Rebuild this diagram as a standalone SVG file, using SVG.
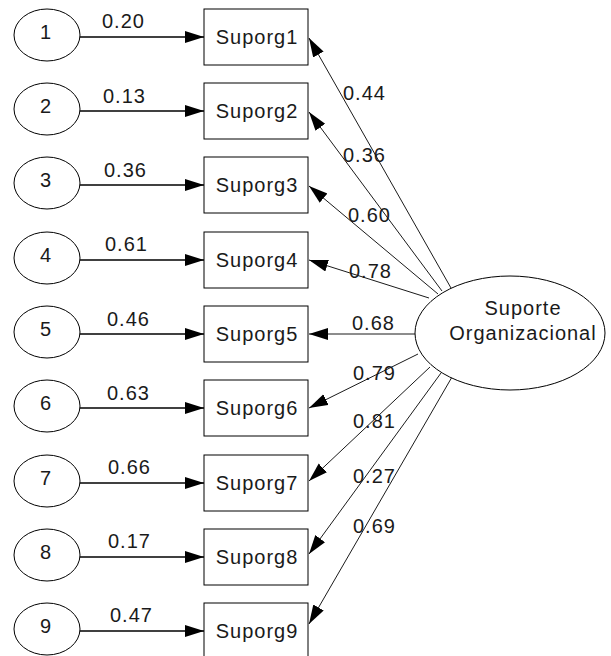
<svg xmlns="http://www.w3.org/2000/svg" width="611" height="656" viewBox="0 0 611 656">
<style>
text{font-family:"Liberation Sans",Arial,sans-serif;font-size:20px;fill:#1a1a1a;letter-spacing:1px}
.c{text-anchor:middle}
.n{fill:#fff;stroke:#000;stroke-width:1}
.h{stroke:#000;stroke-width:1.3;fill:none}
.d{stroke:#000;stroke-width:0.9;fill:none}
</style>
<defs>
<marker id="ah" markerUnits="userSpaceOnUse" markerWidth="20" markerHeight="13" refX="19" refY="6" orient="auto">
<path d="M0,0 L19,6 L0,12 z" fill="#000"/>
</marker>
</defs>
<g id="connectors">
<line class="h" x1="80" y1="37" x2="204" y2="37" marker-end="url(#ah)"/>
<line class="h" x1="80" y1="111" x2="204" y2="111" marker-end="url(#ah)"/>
<line class="h" x1="80" y1="185" x2="204" y2="185" marker-end="url(#ah)"/>
<line class="h" x1="80" y1="260" x2="204" y2="260" marker-end="url(#ah)"/>
<line class="h" x1="80" y1="334" x2="204" y2="334" marker-end="url(#ah)"/>
<line class="h" x1="80" y1="408" x2="204" y2="408" marker-end="url(#ah)"/>
<line class="h" x1="80" y1="483" x2="204" y2="483" marker-end="url(#ah)"/>
<line class="h" x1="80" y1="557" x2="204" y2="557" marker-end="url(#ah)"/>
<line class="h" x1="80" y1="631" x2="204" y2="631" marker-end="url(#ah)"/>
<line class="d" x1="451" y1="288" x2="309" y2="38" marker-end="url(#ah)"/>
<line class="d" x1="442" y1="291" x2="309" y2="112" marker-end="url(#ah)"/>
<line class="d" x1="438" y1="294" x2="309" y2="186" marker-end="url(#ah)"/>
<line class="d" x1="429" y1="298" x2="309" y2="260" marker-end="url(#ah)"/>
<line class="d" x1="415" y1="334" x2="309" y2="334" marker-end="url(#ah)"/>
<line class="d" x1="418" y1="354" x2="309" y2="408" marker-end="url(#ah)"/>
<line class="d" x1="430" y1="367" x2="309" y2="481" marker-end="url(#ah)"/>
<line class="d" x1="441" y1="373" x2="309" y2="554" marker-end="url(#ah)"/>
<line class="d" x1="452" y1="377" x2="309" y2="624" marker-end="url(#ah)"/>
<text x="102" y="28">0.20</text>
<text x="103" y="103">0.13</text>
<text x="104" y="177">0.36</text>
<text x="105" y="251">0.61</text>
<text x="107" y="326">0.46</text>
<text x="107" y="400">0.63</text>
<text x="108" y="474">0.66</text>
<text x="108" y="548">0.17</text>
<text x="110" y="622">0.47</text>
<text x="343" y="100">0.44</text>
<text x="343" y="162">0.36</text>
<text x="348" y="222">0.60</text>
<text x="349" y="278">0.78</text>
<text x="352" y="330">0.68</text>
<text x="353" y="380">0.79</text>
<text x="353" y="428">0.81</text>
<text x="353" y="483">0.27</text>
<text x="353" y="533">0.69</text>
</g>
<g id="e1"><ellipse class="n" cx="47" cy="35" rx="33" ry="26"/><text class="c" x="46" y="39">1</text></g>
<g id="e2"><ellipse class="n" cx="47" cy="109" rx="33" ry="26"/><text class="c" x="46" y="113">2</text></g>
<g id="e3"><ellipse class="n" cx="47" cy="183" rx="33" ry="26"/><text class="c" x="46" y="187">3</text></g>
<g id="e4"><ellipse class="n" cx="47" cy="258" rx="33" ry="26"/><text class="c" x="46" y="262">4</text></g>
<g id="e5"><ellipse class="n" cx="47" cy="332" rx="33" ry="26"/><text class="c" x="46" y="336">5</text></g>
<g id="e6"><ellipse class="n" cx="47" cy="406" rx="33" ry="26"/><text class="c" x="46" y="410">6</text></g>
<g id="e7"><ellipse class="n" cx="47" cy="481" rx="33" ry="26"/><text class="c" x="46" y="485">7</text></g>
<g id="e8"><ellipse class="n" cx="47" cy="555" rx="33" ry="26"/><text class="c" x="46" y="559">8</text></g>
<g id="e9"><ellipse class="n" cx="47" cy="629" rx="33" ry="26"/><text class="c" x="46" y="633">9</text></g>
<g id="s1"><rect class="n" x="204" y="9" width="104" height="56"/><text class="c" x="257" y="44">Suporg1</text></g>
<g id="s2"><rect class="n" x="204" y="83" width="104" height="56"/><text class="c" x="257" y="118">Suporg2</text></g>
<g id="s3"><rect class="n" x="204" y="157" width="104" height="56"/><text class="c" x="257" y="192">Suporg3</text></g>
<g id="s4"><rect class="n" x="204" y="232" width="104" height="56"/><text class="c" x="257" y="267">Suporg4</text></g>
<g id="s5"><rect class="n" x="204" y="306" width="104" height="56"/><text class="c" x="257" y="341">Suporg5</text></g>
<g id="s6"><rect class="n" x="204" y="380" width="104" height="56"/><text class="c" x="257" y="415">Suporg6</text></g>
<g id="s7"><rect class="n" x="204" y="455" width="104" height="56"/><text class="c" x="257" y="490">Suporg7</text></g>
<g id="s8"><rect class="n" x="204" y="529" width="104" height="56"/><text class="c" x="257" y="564">Suporg8</text></g>
<g id="s9"><rect class="n" x="204" y="603" width="104" height="56"/><text class="c" x="257" y="638">Suporg9</text></g>
<g id="suporte"><ellipse class="n" cx="510" cy="333" rx="95" ry="57"/><text class="c" x="523" y="315">Suporte</text><text class="c" x="523" y="340">Organizacional</text></g>
</svg>
